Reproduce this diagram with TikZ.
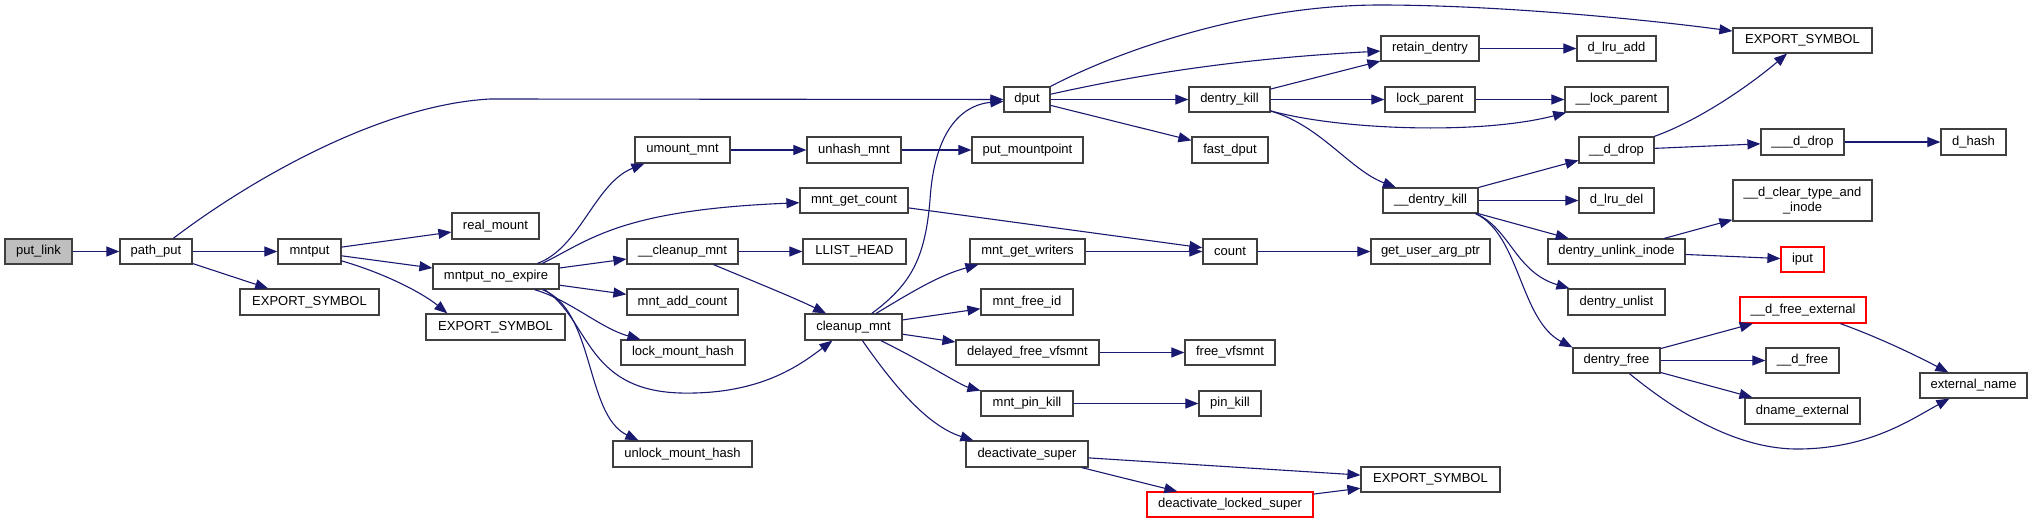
\documentclass[tikz,border=0pt]{standalone}
\usepackage{fontspec}
\setmainfont{Liberation Sans}
\usetikzlibrary{arrows.meta,calc}
\definecolor{edgec}{HTML}{191970}
\definecolor{nodeb}{HTML}{404040}
\definecolor{rootfill}{HTML}{BFBFBF}
\tikzset{
  box/.style={draw=nodeb,line width=1.2pt,rectangle,inner sep=0pt,align=center,font=\fontsize{13}{15}\selectfont},
  redbox/.style={draw=red},
  rootbox/.style={fill=rootfill},
  edge/.style={draw=edgec,line width=1.1pt,-{Triangle[length=13pt,width=10pt]}}
}
\newcommand{\mkbox}[7][]{\node[box,#1,minimum width={(#5-#3)*1pt},minimum height={(#6-#4)*1pt}] (#2) at ({(#3+#5)/2},{(#4+#6)/2}) {#7};}
\begin{document}
\begin{tikzpicture}[x=1pt,y=-1pt]
\useasboundingbox (0,0) rectangle (2032,523);
% nodes
\mkbox[rootbox]{putlink}{5}{239}{72}{264}{put\_link}
\mkbox{pathput}{120}{239}{192}{264}{path\_put}
\mkbox{mntput}{278}{239}{341}{264}{mntput}
\mkbox{expa}{240}{289}{379}{315}{EXPORT\_SYMBOL}
\mkbox{realmount}{452}{213}{539}{239}{real\_mount}
\mkbox{mne}{433}{264}{559}{289}{mntput\_no\_expire}
\mkbox{expb}{426}{314}{565}{340}{EXPORT\_SYMBOL}
\mkbox{umount}{635}{137}{730}{163}{umount\_mnt}
\mkbox{mgc}{800}{188}{908}{213}{mnt\_get\_count}
\mkbox{cln}{627}{239}{738}{264}{\_\_cleanup\_mnt}
\mkbox{mac}{627}{289}{738}{315}{mnt\_add\_count}
\mkbox{lmh}{621}{340}{745}{365}{lock\_mount\_hash}
\mkbox{ulmh}{613}{441}{752}{467}{unlock\_mount\_hash}
\mkbox{unhash}{807}{137}{901}{163}{unhash\_mnt}
\mkbox{putmp}{972}{137}{1083}{163}{put\_mountpoint}
\mkbox{llist}{803}{239}{906}{264}{LLIST\_HEAD}
\mkbox{cleanup}{805}{314}{902}{340}{cleanup\_mnt}
\mkbox{dput}{1004}{87}{1050}{112}{dput}
\mkbox{mgw}{970}{239}{1085}{264}{mnt\_get\_writers}
\mkbox{mfid}{981}{289}{1073}{315}{mnt\_free\_id}
\mkbox{dfv}{956}{340}{1099}{365}{delayed\_free\_vfsmnt}
\mkbox{mpk}{981}{391}{1073}{416}{mnt\_pin\_kill}
\mkbox{deact}{966}{441}{1088}{467}{deactivate\_super}
\mkbox[redbox]{dls}{1147}{492}{1313}{517}{deactivate\_locked\_super}
\mkbox{dkill}{1189}{87}{1270}{112}{dentry\_kill}
\mkbox{fdput}{1192}{137}{1268}{163}{fast\_dput}
\mkbox{count}{1203}{239}{1257}{264}{count}
\mkbox{freevfs}{1185}{340}{1275}{365}{free\_vfsmnt}
\mkbox{pinkill}{1199}{391}{1261}{416}{pin\_kill}
\mkbox{expc}{1361}{467}{1500}{492}{EXPORT\_SYMBOL}
\mkbox{retain}{1381}{36}{1479}{61}{retain\_dentry}
\mkbox{lockp}{1385}{87}{1475}{112}{lock\_parent}
\mkbox{ddkill}{1383}{188}{1478}{213}{\_\_dentry\_kill}
\mkbox{guap}{1371}{239}{1490}{264}{get\_user\_arg\_ptr}
\mkbox{dlruadd}{1577}{36}{1656}{61}{d\_lru\_add}
\mkbox{ulockp}{1565}{87}{1668}{112}{\_\_lock\_parent}
\mkbox{ddrop}{1579}{137}{1654}{163}{\_\_d\_drop}
\mkbox{dlrudel}{1579}{188}{1654}{213}{d\_lru\_del}
\mkbox{dui}{1548}{239}{1685}{264}{dentry\_unlink\_inode}
\mkbox{dunlist}{1568}{289}{1665}{315}{dentry\_unlist}
\mkbox{dfree}{1573}{348}{1660}{373}{dentry\_free}
\mkbox{exptop}{1733}{28}{1872}{53}{EXPORT\_SYMBOL}
\mkbox{dddrop}{1761}{129}{1844}{155}{\_\_\_d\_drop}
\mkbox{dhash}{1941}{129}{2006}{155}{d\_hash}
\mkbox{dclear}{1733}{180}{1872}{221}{\_\_d\_clear\_type\_and\\\_inode}
\mkbox[redbox]{iput}{1781}{247}{1824}{272}{iput}
\mkbox[redbox]{dfe}{1740}{297}{1866}{323}{\_\_d\_free\_external}
\mkbox{dfr}{1766}{348}{1839}{373}{\_\_d\_free}
\mkbox{dname}{1745}{398}{1860}{424}{dname\_external}
\mkbox{extname}{1920}{373}{2027}{398}{external\_name}
% edges
\draw[edge] (putlink) -- (pathput);
\draw[edge] (pathput) -- (mntput);
\draw[edge] (pathput) -- (expa);
\draw[edge] (pathput) .. controls (250,180) and (380,105) .. (490,99) -- (dput);
\draw[edge] (mntput) -- (realmount);
\draw[edge] (mntput) -- (mne);
\draw[edge] (mntput) .. controls (390,275) and (425,295) .. ($(expb.north west)+(22,0)$);
\draw[edge] ($(mne.north west)+(105,0)$) .. controls (580,248) and (595,183) .. ($(umount.south west)+(10,0)$);
\draw[edge] ($(mne.north west)+(110,0)$) .. controls (590,240) and (620,210) .. (mgc);
\draw[edge] (mne) -- (cln);
\draw[edge] (mne) -- (mac);
\draw[edge] ($(mne.south west)+(102,0)$) .. controls (570,300) and (600,328) .. ($(lmh.north west)+(20,0)$);
\draw[edge] ($(mne.south west)+(112,0)$) .. controls (590,320) and (585,390) .. (680,393) .. controls (760,395) and (800,365) .. ($(cleanup.south west)+(28,0)$);
\draw[edge] ($(mne.south west)+(110,0)$) .. controls (595,310) and (585,415) .. ($(ulmh.north west)+(26,0)$);
\draw[edge] (umount) -- (unhash);
\draw[edge] (unhash) -- (putmp);
\draw[edge] (mgc) -- (count);
\draw[edge] (cln) -- (llist);
\draw[edge] (cln) .. controls (755,282) and (795,298) .. (cleanup);
\draw[edge] (cleanup) .. controls (910,285) and (925,260) .. (930,200) .. controls (935,120) and (970,104) .. (dput);
\draw[edge] (cleanup) .. controls (915,290) and (940,275) .. ($(mgw.south west)+(9,0)$);
\draw[edge] (cleanup) -- (mfid);
\draw[edge] (cleanup) -- (dfv);
\draw[edge] (cleanup) .. controls (930,365) and (960,385) .. (mpk);
\draw[edge] ($(cleanup.south west)+(58,0)$) .. controls (890,380) and (925,425) .. ($(deact.north west)+(8,0)$);
\draw[edge] (mgw) -- (count);
\draw[edge] (dfv) -- (freevfs);
\draw[edge] (mpk) -- (pinkill);
\draw[edge] (deact) -- (expc);
\draw[edge] (deact) -- (dls);
\draw[edge] (dls) -- (expc);
\draw[edge] (count) -- (guap);
\draw[edge] (dput.north east) .. controls (1120,50) and (1250,5) .. (1380,5) .. controls (1500,5) and (1650,20) .. (exptop);
\draw[edge] (dput) .. controls (1150,72) and (1250,58) .. (retain);
\draw[edge] (dput) -- (dkill);
\draw[edge] (dput) -- (fdput);
\draw[edge] (dkill) -- (retain);
\draw[edge] (dkill) -- (lockp);
\draw[edge] (dkill) .. controls (1340,130) and (1480,135) .. (ulockp);
\draw[edge] (dkill) .. controls (1320,125) and (1350,170) .. (ddkill);
\draw[edge] (retain) -- (dlruadd);
\draw[edge] (lockp) -- (ulockp);
\draw[edge] (ddkill) -- (ddrop);
\draw[edge] (ddkill) -- (dlrudel);
\draw[edge] (ddkill) -- (dui);
\draw[edge] ($(ddkill.south east)+(-3,0)$) .. controls (1510,228) and (1515,272) .. ($(dunlist.north west)+(2,0)$);
\draw[edge] ($(ddkill.south east)+(-3,0)$) .. controls (1520,235) and (1520,320) .. (dfree.north west);
\draw[edge] (ddrop) .. controls (1700,120) and (1750,85) .. (exptop);
\draw[edge] (ddrop) -- (dddrop);
\draw[edge] (dddrop) -- (dhash);
\draw[edge] (dui) -- (dclear);
\draw[edge] (dui) -- (iput);
\draw[edge] (dfree) -- (dfe);
\draw[edge] (dfree) -- (dfr);
\draw[edge] (dfree) -- (dname);
\draw[edge] ($(dfree.south west)+(57,0)$) .. controls (1680,415) and (1740,450) .. (1800,449) .. controls (1870,448) and (1910,420) .. ($(extname.south west)+(30,0)$);
\draw[edge] (dfe) .. controls (1880,338) and (1915,355) .. (extname);
\end{tikzpicture}
\end{document}
